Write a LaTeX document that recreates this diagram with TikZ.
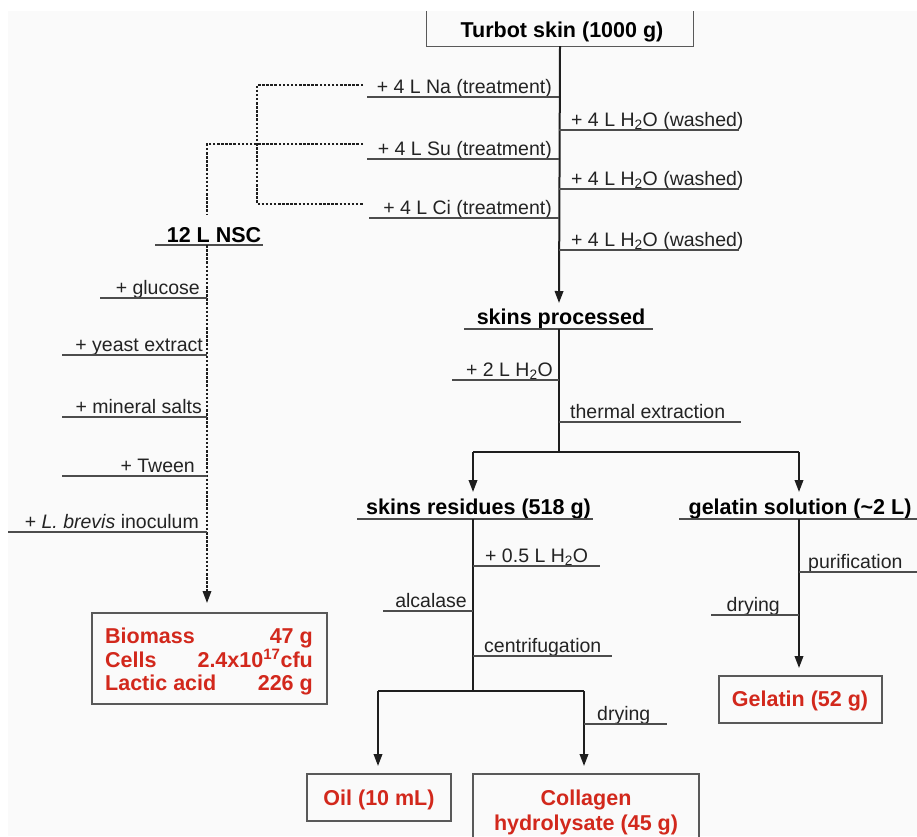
\documentclass[tikz,border=0pt]{standalone}
\usepackage{fontspec}
\setmainfont{Liberation Sans}
\usetikzlibrary{arrows.meta}
\definecolor{redtxt}{RGB}{210,40,28}
\definecolor{bgc}{RGB}{250,250,250}
\definecolor{ln}{RGB}{30,30,30}
\definecolor{txt}{RGB}{35,35,35}
\tikzset{
  lab/.style={inner sep=0pt, font=\fontsize{19.5}{22}\selectfont, text=txt},
  blab/.style={inner sep=0pt, font=\fontsize{21.5}{24}\selectfont\bfseries, text=black},
  rlab/.style={inner sep=0pt, font=\fontsize{21.5}{25}\selectfont\bfseries, text=redtxt},
  uline/.style={line width=1.3pt, draw=black!70},
  flow/.style={line width=2pt, draw=ln},
  arr/.style={flow, -{Triangle[length=12pt,width=8.5pt]}},
  dotl/.style={line width=1.8pt, dash pattern=on 2.5pt off 1.6pt, draw=ln},
  darr/.style={dotl, -{Triangle[length=12pt,width=8.5pt]}},
  resbox/.style={draw=black!65, line width=1.3pt, inner sep=0pt}
}
\begin{document}
\begin{tikzpicture}[x=1pt,y=-1pt]
\useasboundingbox (0,0) rectangle (917,836);
\clip (0,0) rectangle (917,836);
\fill[bgc] (8,11) rectangle (917,836);

% ---- top box (cut at the top edge) and main trunk
\node[inner sep=0pt, minimum width=266pt, minimum height=35pt] (turbot) at (560,28.5) {};
\draw[draw=black!65, line width=1.3pt] (turbot.north west) -- (turbot.south west) -- (turbot.south east) -- (turbot.north east);
\node[blab, anchor=base] (turbottxt) at (562,37) {Turbot skin (1000 g)};
\coordinate (proctip) at (559,303);
\draw[arr] (turbot.south) -- (proctip);

% treatments (left)
\node[lab, anchor=base east] (na) at (552,93) {+ 4 L Na (treatment)};
\draw[uline] (367,97) -- (559,97);
\node[lab, anchor=base east] (su) at (552,155) {+ 4 L Su (treatment)};
\draw[uline] (367,159) -- (559,159);
\node[lab, anchor=base east] (ci) at (552,214) {+ 4 L Ci (treatment)};
\draw[uline] (369,218) -- (559,218);

% washes (right)
\node[lab, anchor=base west] (w1) at (571,126) {+ 4 L H\textsubscript{2}O (washed)};
\draw[uline] (559,130) -- (739,130);
\node[lab, anchor=base west] (w2) at (571,185) {+ 4 L H\textsubscript{2}O (washed)};
\draw[uline] (559,189) -- (739,189);
\node[lab, anchor=base west] (w3) at (571,246) {+ 4 L H\textsubscript{2}O (washed)};
\draw[uline] (559,250) -- (739,250);

% dotted collection to NSC
\coordinate (naE) at (363,85);
\coordinate (suE) at (363,144);
\coordinate (ciE) at (363,204);
\coordinate (nscTop) at (207,215);
\draw[dotl] (naE) -- (257,85) -- (257,204) -- (ciE);
\draw[dotl] (suE) -- (207,144) -- (nscTop);

% ---- NSC branch
\node[blab, anchor=base] (nsc) at (214,242) {12 L NSC};
\draw[uline] (155,245) -- (263,245);
\coordinate (nscB) at (207,245);
\node[resbox, minimum width=235pt, minimum height=91pt] (bio) at (209.5,658.5) {};
\draw[darr] (nscB) -- (207,603);

\node[lab, anchor=base east] (glu) at (200,294) {+ glucose};
\draw[uline] (100,298) -- (207,298);
\node[lab, anchor=base east] (yea) at (203,351) {+ yeast extract};
\draw[uline] (62,355) -- (207,355);
\node[lab, anchor=base east] (min) at (202,413) {+ mineral salts};
\draw[uline] (62,417) -- (207,417);
\node[lab, anchor=base east] (twe) at (195,472) {+ Tween};
\draw[uline] (62,476) -- (207,476);
\node[lab, anchor=base east] (ino) at (199,528) {+ \textit{L. brevis} inoculum};
\draw[uline] (8,532) -- (207,532);

\node[rlab, anchor=base west] (b1) at (105,643) {Biomass};
\node[rlab, anchor=base east] (b1v) at (313,643) {47 g};
\node[rlab, anchor=base west] (b2) at (105,667) {Cells};
\node[rlab, anchor=base east] (b2v) at (313,667) {2.4x10\textsuperscript{17}cfu};
\node[rlab, anchor=base west] (b3) at (105,690) {Lactic acid};
\node[rlab, anchor=base east] (b3v) at (313,690) {226 g};

% ---- skins processed
\node[blab, anchor=base] (proc) at (561,324) {skins processed};
\draw[uline] (464,329) -- (653,329);
\coordinate (procB) at (559,329);
\coordinate (split) at (559,452);
\draw[flow] (procB) -- (split);
\node[lab, anchor=base east] (h2) at (553,376) {+ 2 L H\textsubscript{2}O};
\draw[uline] (452,380) -- (559,380);
\node[lab, anchor=base west] (therm) at (570,418) {thermal extraction};
\draw[uline] (559,422) -- (741,422);

\coordinate (splitL) at (473,452);
\coordinate (splitR) at (799,452);
\draw[flow] (splitL) -- (splitR);
\draw[arr] (splitL) -- (473,492);
\draw[arr] (splitR) -- (799,492);

% ---- skins residues
\node[blab, anchor=base] (resid) at (478.5,514) {skins residues (518 g)};
\draw[uline] (357,519) -- (593,519);
\coordinate (residB) at (473,519);
\coordinate (split2) at (473,691);
\draw[flow] (residB) -- (split2);
\node[lab, anchor=base west] (h05) at (485,562) {+ 0.5 L H\textsubscript{2}O};
\draw[uline] (473,566) -- (600,566);
\node[lab, anchor=base east] (alc) at (467,607) {alcalase};
\draw[uline] (383,611) -- (473,611);
\node[lab, anchor=base west] (cen) at (484,652) {centrifugation};
\draw[uline] (473,656) -- (612,656);

\coordinate (split2L) at (378,691);
\coordinate (split2R) at (584,691);
\draw[flow] (split2L) -- (split2R);
\node[resbox, minimum width=144pt, minimum height=47pt] (oil) at (379,797.5) {};
\node[rlab, anchor=base] (oiltxt) at (379,805) {Oil (10 mL)};
\node[resbox, minimum width=226pt, minimum height=80pt] (coll) at (586,814) {};
\node[rlab, anchor=base] (colltxt1) at (586,805) {Collagen};
\node[rlab, anchor=base] (colltxt2) at (586,830) {hydrolysate (45 g)};
\draw[arr] (split2L) -- (378,766);
\draw[arr] (split2R) -- (584,766);
\node[lab, anchor=base west] (dry1) at (597,720) {drying};
\draw[uline] (584,724) -- (667,724);

% ---- gelatin solution
\node[blab, anchor=base] (gsol) at (800,514) {gelatin solution (\textasciitilde 2 L)};
\draw[uline] (679,519) -- (917,519);
\coordinate (gsolB) at (799,519);
\node[resbox, minimum width=163pt, minimum height=47pt] (gel) at (800.5,699.5) {};
\node[rlab, anchor=base] (geltxt) at (800,706) {Gelatin (52 g)};
\draw[arr] (gsolB) -- (799,668);
\node[lab, anchor=base west] (pur) at (808,568) {purification};
\draw[uline] (799,572) -- (917,572);
\node[lab, anchor=base east] (dry2) at (780,611) {drying};
\draw[uline] (711,615) -- (799,615);
\end{tikzpicture}
\end{document}
